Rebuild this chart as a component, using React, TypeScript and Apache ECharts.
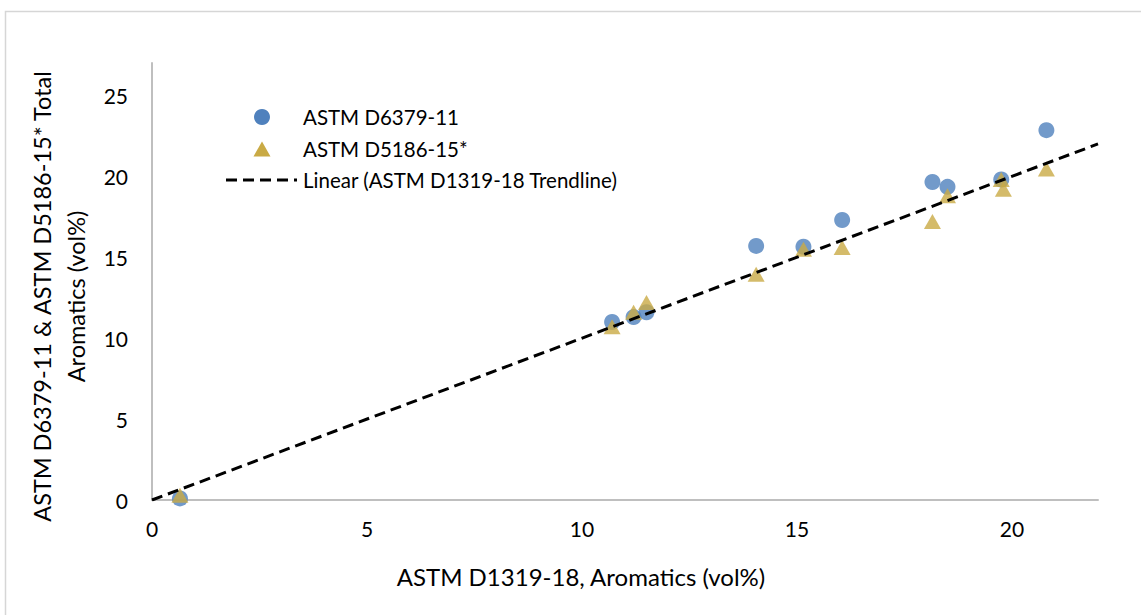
import React, { useEffect, useRef } from 'react';
import * as echarts from 'echarts';

const seriesNames = ['ASTM D6379-11', 'ASTM D5186-15*', 'Linear (ASTM D1319-18 Trendline)'];

const d6379X = [0.65, 10.7, 11.2, 11.5, 14.05, 15.15, 16.05, 18.15, 18.5, 19.75, 20.8];
const d6379Y = [0.1, 11.0, 11.3, 11.6, 15.7, 15.65, 17.3, 19.65, 19.35, 19.8, 22.85];

const d5186X = [0.65, 10.7, 11.2, 11.5, 14.05, 15.15, 16.05, 18.15, 18.5, 19.75, 19.8, 20.8];
const d5186Y = [0.3, 10.7, 11.6, 12.2, 13.95, 15.5, 15.6, 17.2, 18.8, 19.8, 19.2, 20.45];

const trendX = [0, 22];
const trendY = [0, 22];

const xName = 'ASTM D1319-18, Aromatics (vol%)';
const yName = 'ASTM D6379-11 & ASTM D5186-15* Total\nAromatics (vol%)';

const FONT = 'Lato';
const BLUE = '#4f81bd';
const GOLD = '#c9aa45';

export default function App() {
  const ref = useRef<HTMLDivElement>(null);
  useEffect(() => {
    if (!ref.current) return;
    const chart = echarts.init(ref.current, null, { renderer: 'svg' });
    const zip = (xs: number[], ys: number[]) => xs.map((x, i) => [x, ys[i]]);
    const legendFont = { fontSize: 20.5, fill: '#000', fontFamily: FONT, verticalAlign: 'middle', align: 'left' };
    chart.setOption({
      animation: false,
      backgroundColor: '#ffffff',
      textStyle: { fontFamily: FONT },
      graphic: [
        {
          type: 'rect',
          silent: true,
          z: -10,
          shape: { x: 5.5, y: 11.5, width: 1200, height: 700 },
          style: { fill: 'none', stroke: '#d6d6d6', lineWidth: 1.5 },
        },
        { type: 'circle', silent: true, shape: { cx: 262, cy: 117, r: 8 }, style: { fill: BLUE } },
        {
          type: 'polygon',
          silent: true,
          shape: { points: [[253.5, 156.5], [270.5, 156.5], [262, 141.5]] },
          style: { fill: GOLD },
        },
        {
          type: 'line',
          silent: true,
          shape: { x1: 226, y1: 180, x2: 297, y2: 180 },
          style: { stroke: '#000', lineWidth: 3, lineDash: [11, 6] },
        },
        { type: 'text', silent: true, x: 303, y: 117, style: { ...legendFont, text: seriesNames[0] } },
        { type: 'text', silent: true, x: 303, y: 149, style: { ...legendFont, text: seriesNames[1] } },
        { type: 'text', silent: true, x: 303, y: 180, style: { ...legendFont, text: seriesNames[2] } },
      ],
      grid: { left: 152, right: 43, top: 63, bottom: 115 },
      xAxis: {
        type: 'value',
        min: 0,
        max: 22,
        interval: 5,
        splitLine: { show: false },
        axisTick: { show: false },
        axisLine: { show: true, onZero: false, lineStyle: { color: '#bfbfbf', width: 2 } },
        axisLabel: { color: '#000', fontSize: 21, margin: 18, showMaxLabel: false, fontFamily: FONT },
        name: xName,
        nameLocation: 'middle',
        nameGap: 64,
        nameTextStyle: { color: '#000', fontSize: 24, fontFamily: FONT, padding: [0, 88, 0, 0] },
      },
      yAxis: {
        type: 'value',
        min: 0,
        max: 27,
        interval: 5,
        splitLine: { show: false },
        axisTick: { show: false },
        axisLine: { show: true, onZero: false, lineStyle: { color: '#bfbfbf', width: 2 } },
        axisLabel: { color: '#000', fontSize: 21, margin: 24, showMaxLabel: false, fontFamily: FONT },
        name: yName,
        nameLocation: 'middle',
        nameRotate: 90,
        nameGap: 45,
        nameTextStyle: {
          color: '#000',
          fontSize: 23.5,
          lineHeight: 34,
          align: 'center',
          fontFamily: FONT,
          padding: [0, 30, 0, 0],
        },
      },
      series: [
        {
          name: seriesNames[0],
          type: 'scatter',
          symbol: 'circle',
          symbolSize: 16,
          itemStyle: { color: BLUE },
          data: zip(d6379X, d6379Y),
          z: 2,
        },
        {
          name: seriesNames[1],
          type: 'scatter',
          symbol: 'triangle',
          symbolSize: [17, 15],
          itemStyle: { color: GOLD },
          data: zip(d5186X, d5186Y),
          z: 3,
        },
        {
          name: seriesNames[2],
          type: 'line',
          symbol: 'none',
          lineStyle: { color: '#000', width: 3, type: [11, 6] },
          itemStyle: { color: '#000' },
          data: zip(trendX, trendY),
          z: 4,
        },
      ],
    });
    return () => chart.dispose();
  }, []);
  return (
    <div
      ref={ref}
      style={{ position: 'absolute', left: 0, top: 0, width: 1141, height: 615 }}
    />
  );
}
